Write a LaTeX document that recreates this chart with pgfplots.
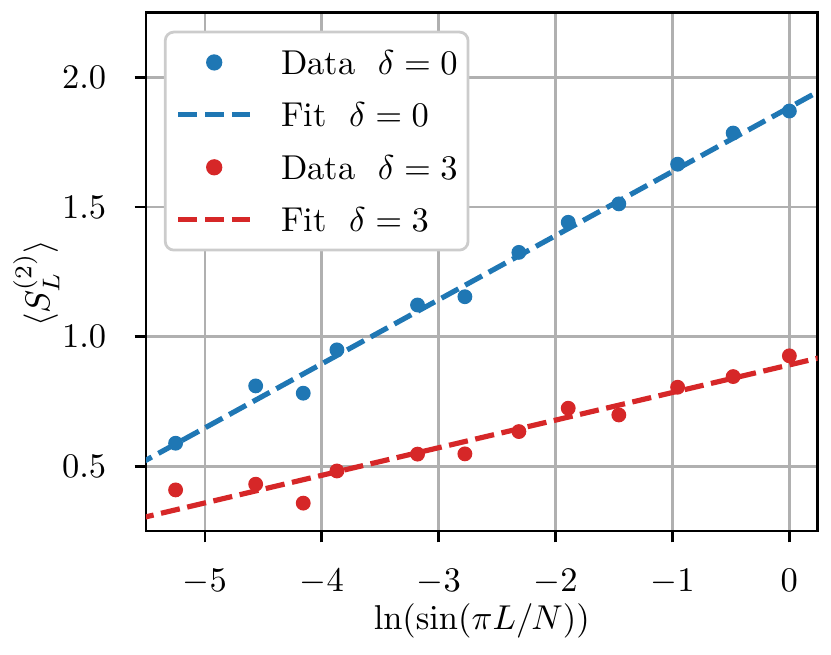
\documentclass[border=0pt]{standalone}
\usepackage{pgfplots}
\pgfplotsset{compat=1.18}
\usetikzlibrary{calc}
\definecolor{tabblue}{HTML}{1F77B4}
\definecolor{tabred}{HTML}{D62728}
\definecolor{gridgray}{HTML}{B0B0B0}
\definecolor{legframe}{HTML}{CCCCCC}
\begin{document}
\begin{tikzpicture}
\begin{axis}[
  scale only axis,
  width=194.7pt, height=150.2pt,
  xmin=-5.505, xmax=0.241,
  ymin=0.251, ymax=2.249,
  xtick={-5,-4,-3,-2,-1,0},
  ytick={0.5,1.0,1.5,2.0},
  grid=major,
  major grid style={color=gridgray, line width=0.8pt},
  axis line style={black, line width=0.8pt},
  tick style={black, line width=0.8pt},
  major tick length=3.3pt,
  tick align=outside,
  xtick pos=lower, ytick pos=left,
  xticklabel style={inner sep=0pt, anchor=base, yshift=-14.2pt},
  yticklabel style={inner sep=0pt, anchor=east, xshift=-8pt, /pgf/number format/fixed, /pgf/number format/fixed zerofill, /pgf/number format/precision=1},
  xlabel={$\ln(\sin(\pi L/N))$},
  ylabel={$\langle S_L^{(2)}\rangle$},
  xlabel style={at={($(rel axis cs:0.5,0)+(0pt,-28.7pt)$)}, anchor=base, inner sep=0pt},
  ylabel style={at={($(rel axis cs:0,0.4776)+(-28.1pt,0)$)}, anchor=south, inner sep=0pt},
  legend image code/.code={\draw[mark repeat=2,mark phase=2,#1] plot coordinates {(0pt,0pt)(10.45pt,0pt)(20.9pt,0pt)};},
  legend cell align=left,
  legend style={at={($(rel axis cs:0,1)+(5.2pt,-5.2pt)$)}, anchor=north west,
    draw=legframe, line width=0.8pt, rounded corners=2.5pt, fill=white,
    inner xsep=3pt, inner ysep=4.8pt, row sep=7.2pt, column sep=0pt,
    nodes={inner sep=0pt, text height=7.5pt, text depth=0.5pt},
    font=\normalsize},
]
\addplot[only marks, mark=*, mark size=1.95pt, color=tabblue, mark options={draw=none, fill=tabblue}]
  coordinates {(-5.251,0.589) (-4.566,0.810) (-4.159,0.782) (-3.871,0.949) (-3.181,1.122) (-2.776,1.154) (-2.314,1.325) (-1.892,1.441) (-1.459,1.512) (-0.956,1.665) (-0.481,1.785) (0,1.870)};
\addlegendentry{\hspace{8.2pt}Data\hspace{6.5pt}$\delta=0$\hspace{5pt}}
\addplot[color=tabblue, line width=1.5pt, dash pattern=on 5.6pt off 2.2pt, no marks]
  coordinates {(-5.6,0.500) (0.3,1.958)};
\addlegendentry{\hspace{8.2pt}Fit\hspace{6.5pt}$\delta=0$}
\addplot[only marks, mark=*, mark size=1.95pt, color=tabred, mark options={draw=none, fill=tabred}]
  coordinates {(-5.251,0.409) (-4.566,0.431) (-4.159,0.358) (-3.871,0.482) (-3.181,0.547) (-2.776,0.548) (-2.314,0.634) (-1.892,0.724) (-1.459,0.698) (-0.956,0.805) (-0.481,0.846) (0,0.926)};
\addlegendentry{\hspace{8.2pt}Data\hspace{6.5pt}$\delta=3$\hspace{5pt}}
\addplot[color=tabred, line width=1.5pt, dash pattern=on 5.6pt off 2.2pt, no marks]
  coordinates {(-5.6,0.295) (0.3,0.923)};
\addlegendentry{\hspace{8.2pt}Fit\hspace{6.5pt}$\delta=3$}
\coordinate (sw) at (rel axis cs:0,0);
\coordinate (ne) at (rel axis cs:1,1);
\end{axis}
\pgfresetboundingbox
\path ($(sw)+(-42.3pt,-35.7pt)$) rectangle ($(ne)+(3.9pt,3.7pt)$);
\end{tikzpicture}
\end{document}
